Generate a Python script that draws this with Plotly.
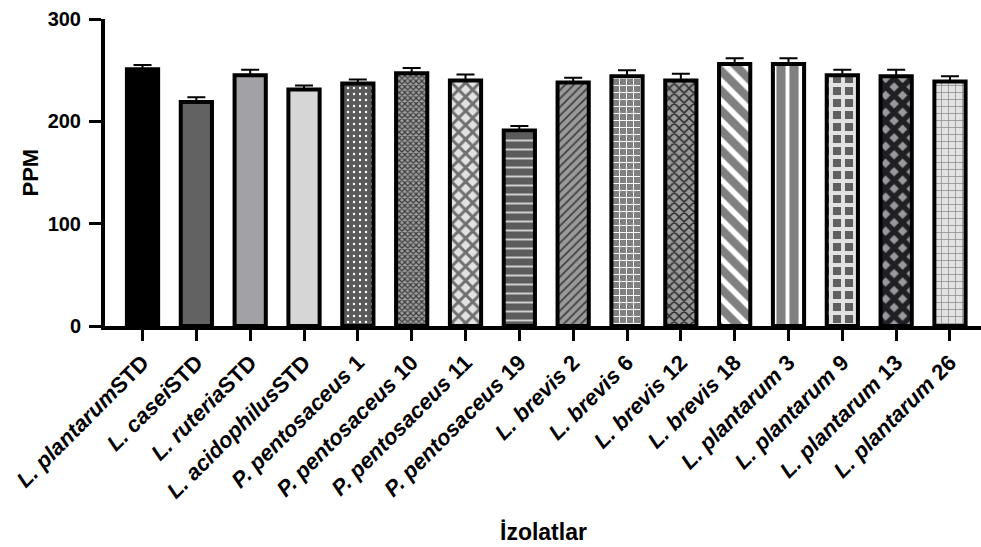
import plotly.graph_objects as go

categories = [
    "<i>L. plantarum</i>STD", "<i>L. casei</i>STD", "<i>L. ruteria</i>STD", "<i>L. acidophilus</i>STD",
    "<i>P. pentosaceus</i> 1", "<i>P. pentosaceus</i> 10", "<i>P. pentosaceus</i> 11", "<i>P. pentosaceus</i> 19",
    "<i>L. brevis</i> 2", "<i>L. brevis</i> 6", "<i>L. brevis</i> 12", "<i>L. brevis</i> 18",
    "<i>L. plantarum</i> 3", "<i>L. plantarum</i> 9", "<i>L. plantarum</i> 13", "<i>L. plantarum</i> 26",
]
ppm_values = [251, 219, 245, 231, 237, 247, 240, 191, 238, 244, 240, 256, 256, 245, 244, 239]
ppm_errors = [4, 4.5, 5.5, 4, 3.8, 5, 5.7, 4.5, 4.5, 6, 6.4, 5.7, 5.7, 5.4, 6.4, 5.1]
y_ticks = [0, 100, 200, 300]

# per-bar fill styles
bg_colors = ["#000000", "#626262", "#a2a2a6", "#d6d6d6", "#5a5a5a", "#a0a0a0", "#e2e2e2", "#5c5c5c",
             "#9a9a9a", "#808080", "#9a9a9a", "#808080", "#808080", "#606060", "#9a9a9e", "#e2e2e2"]
fg_colors = ["#000000", "#626262", "#a2a2a6", "#d6d6d6", "#ffffff", "#3a3a3a", "#707070", "#d0d0d0",
             "#404040", "#ffffff", "#303030", "#ffffff", "#ffffff", "#e2e2e2", "#202024", "#8a8a8a"]
shapes = ["", "", "", "", ".", "x", "x", "-", "/", "+", "x", "\\", "|", "+", "x", "+"]
sizes = [8, 8, 8, 8, 6, 4, 10, 9, 6, 7, 7, 14, 13, 12, 12, 7]
solidity = [0.3, 0.3, 0.3, 0.3, 0.12, 0.5, 0.5, 0.22, 0.3, 0.25, 0.4, 0.4, 0.3, 0.55, 0.7, 0.2]

font_family = "Liberation Sans, Arial, sans-serif"

fig = go.Figure()
for i, (cat, val, err) in enumerate(zip(categories, ppm_values, ppm_errors)):
    pattern = dict(shape=shapes[i], fgcolor=fg_colors[i], fgopacity=1,
                   size=sizes[i], solidity=solidity[i], fillmode="overlay")
    fig.add_trace(go.Bar(
        x=[i], y=[val],
        width=0.58,
        marker=dict(color=bg_colors[i], line=dict(color="black", width=4), pattern=pattern),
        error_y=dict(type="data", symmetric=False, array=[err], arrayminus=[0],
                     color="black", thickness=2, width=9),
        showlegend=False,
        name=cat,
    ))

fig.update_layout(
    width=981, height=547,
    margin=dict(l=105, r=0, t=19, b=221),
    plot_bgcolor="white", paper_bgcolor="white",
    font=dict(family=font_family, color="black", size=19, weight="bold"),
    barmode="overlay",
    annotations=[
        dict(text="PPM", xref="paper", yref="paper", x=-0.0845, y=0.5, textangle=-90,
             showarrow=False, xanchor="center", yanchor="middle",
             font=dict(family=font_family, size=22, weight="bold", color="black")),
        dict(text="İzolatlar", xref="paper", yref="paper", x=0.5, y=-0.67,
             showarrow=False, xanchor="center", yanchor="middle",
             font=dict(family=font_family, size=23, weight="bold", color="black")),
    ],
)

fig.update_xaxes(
    range=[-0.697, 15.576],
    tickmode="array", tickvals=list(range(len(categories))), ticktext=categories,
    tickangle=-45,
    showline=True, linecolor="black", linewidth=4,
    ticks="outside", ticklen=11, tickwidth=3, tickcolor="black",
    showgrid=False, zeroline=False,
    tickfont=dict(family=font_family, size=22, weight="bold", color="black"),
)
fig.update_yaxes(
    range=[0, 300],
    tickmode="array", tickvals=y_ticks,
    showline=True, linecolor="black", linewidth=4,
    ticks="outside", ticklen=12, tickwidth=3, tickcolor="black",
    showgrid=False, zeroline=False,
    ticklabelstandoff=4,
    tickfont=dict(family=font_family, size=20, weight="bold", color="black"),
)

fig.write_html("out.html")
